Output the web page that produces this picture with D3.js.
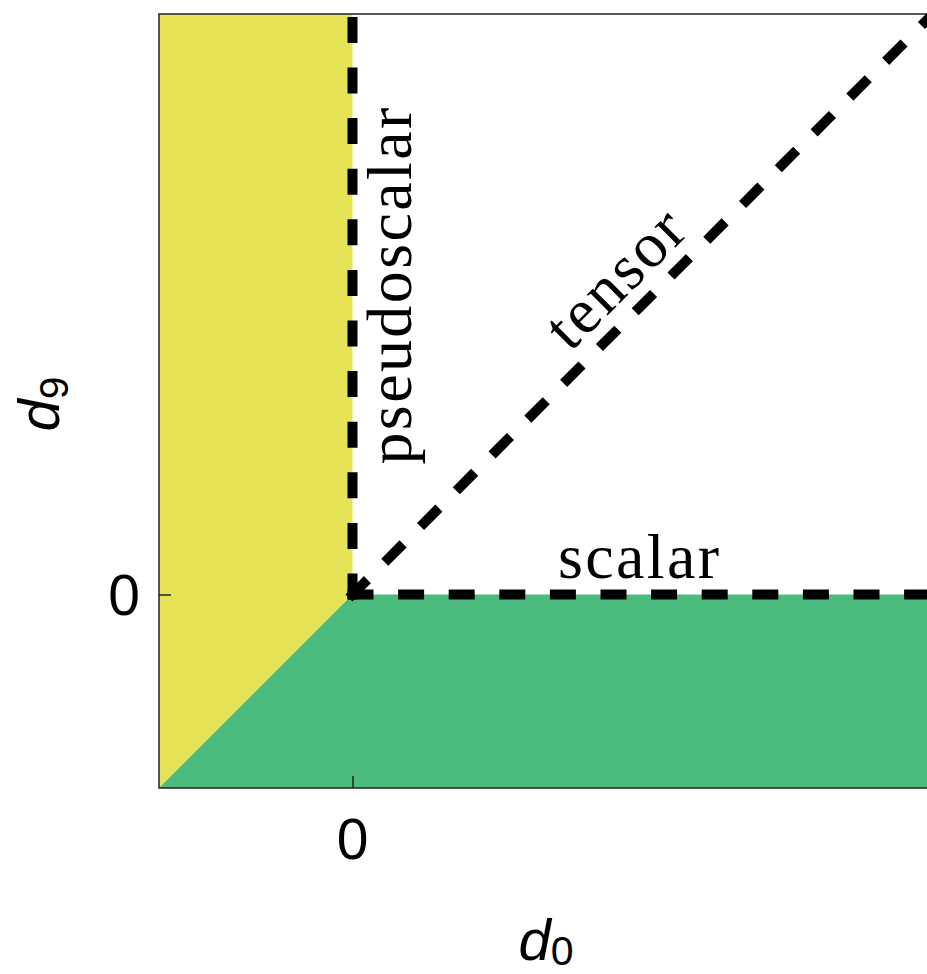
<!DOCTYPE html>
<html>
<head>
<meta charset="utf-8">
<script src="https://cdn.jsdelivr.net/npm/d3@7/dist/d3.min.js"></script>
<style>
  html, body { margin: 0; padding: 0; background: #ffffff; }
  svg { display: block; }
</style>
</head>
<body>
<svg id="chart" width="927" height="974"></svg>
<script>
// Axis extents (arbitrary units, only the origin is labelled)
const xDomain = [-1, 3];
const yDomain = [-1, 3];
const xTicks = [0];
const yTicks = [0];
const xTickLabels = ["0"];
const yTickLabels = ["0"];

// Phase regions in the (d0, d9) plane
const pseudoscalarRegion = [[-1, -1], [0, 0], [0, 3], [-1, 3]];
const scalarRegion = [[-1, -1], [3, -1], [3, 0], [0, 0]];

// Dashed phase boundaries and their names
const boundaryNames = ["pseudoscalar", "tensor", "scalar"];
const boundaryLines = [
  [[0, 0], [0, 3]],
  [[0, 0], [3, 3]],
  [[0, 0], [3, 0]]
];
// Position along each boundary where its name sits
const boundaryLabelAt = [[0, 1.6], [1.5, 1.5], [1.5, 0]];

const svg = d3.select("#chart");
const margin = { left: 159, top: 14 };
const plotW = 774, plotH = 774;

const x = d3.scaleLinear().domain(xDomain).range([margin.left, margin.left + plotW]);
const y = d3.scaleLinear().domain(yDomain).range([margin.top + plotH, margin.top]);

const line = d3.line().x(d => x(d[0])).y(d => y(d[1]));

// Filled regions
svg.append("path")
  .attr("d", line(pseudoscalarRegion) + "Z")
  .attr("fill", "#e6e357");
svg.append("path")
  .attr("d", line(scalarRegion) + "Z")
  .attr("fill", "#4cbb7e");

// Frame
svg.append("rect")
  .attr("x", x(xDomain[0]))
  .attr("y", y(yDomain[1]))
  .attr("width", x(xDomain[1]) - x(xDomain[0]))
  .attr("height", y(yDomain[0]) - y(yDomain[1]))
  .attr("fill", "none")
  .attr("stroke", "#222")
  .attr("stroke-width", 1.5);

// Axes with inward ticks
const xAxis = d3.axisTop(x).tickValues(xTicks).tickSize(12)
  .tickFormat(() => "");
const gx = svg.append("g")
  .attr("transform", `translate(0,${y(yDomain[0])})`)
  .call(xAxis);
gx.select(".domain").remove();
gx.selectAll(".tick line").attr("stroke", "#222").attr("stroke-width", 1.5);

const yAxis = d3.axisRight(y).tickValues(yTicks).tickSize(12)
  .tickFormat(() => "");
const gy = svg.append("g")
  .attr("transform", `translate(${x(xDomain[0])},0)`)
  .call(yAxis);
gy.select(".domain").remove();
gy.selectAll(".tick line").attr("stroke", "#222").attr("stroke-width", 1.5);

// Tick labels
svg.selectAll(".xtl").data(xTicks).enter().append("text")
  .attr("class", "xtl")
  .attr("x", d => x(d))
  .attr("y", y(yDomain[0]) + 71)
  .attr("text-anchor", "middle")
  .attr("font-family", "Liberation Sans, Arial, sans-serif")
  .attr("font-size", 57)
  .attr("fill", "#000")
  .text((d, i) => xTickLabels[i]);

svg.selectAll(".ytl").data(yTicks).enter().append("text")
  .attr("class", "ytl")
  .attr("x", x(xDomain[0]) - 19)
  .attr("y", d => y(d) + 20)
  .attr("text-anchor", "end")
  .attr("font-family", "Liberation Sans, Arial, sans-serif")
  .attr("font-size", 57)
  .attr("fill", "#000")
  .text((d, i) => yTickLabels[i]);

// Dashed boundaries
svg.selectAll(".boundary").data(boundaryLines).enter().append("path")
  .attr("class", "boundary")
  .attr("d", d => line(d))
  .attr("fill", "none")
  .attr("stroke", "#000")
  .attr("stroke-width", 10)
  .attr("stroke-linecap", "square")
  .attr("stroke-dasharray", "16,34.6");

// Boundary names
const serif = "Liberation Serif, Times New Roman, serif";
const labelOffsets = [
  { dx: 58, dy: 0, rot: -90 },
  { dx: -12, dy: -12, rot: -45 },
  { dx: -3, dy: -17, rot: 0 }
];
svg.selectAll(".bname").data(boundaryNames).enter().append("text")
  .attr("class", "bname")
  .attr("transform", (d, i) => {
    const p = boundaryLabelAt[i], o = labelOffsets[i];
    return `translate(${x(p[0]) + o.dx},${y(p[1]) + o.dy}) rotate(${o.rot})`;
  })
  .attr("text-anchor", "middle")
  .attr("font-family", serif)
  .attr("font-size", 64)
  .attr("letter-spacing", 2.4)
  .attr("fill", "#000")
  .text(d => d);

// Axis titles: d with subscript
const sans = "Liberation Sans, Arial, sans-serif";
const xt = svg.append("text")
  .attr("x", 546)
  .attr("y", 960)
  .attr("text-anchor", "middle")
  .attr("font-family", sans)
  .attr("fill", "#000");
xt.append("tspan").attr("font-style", "italic").attr("font-size", 58).text("d");
xt.append("tspan").attr("font-size", 41).attr("dy", 5).text("0");

const yt = svg.append("text")
  .attr("transform", "translate(59,404) rotate(-90)")
  .attr("text-anchor", "middle")
  .attr("font-family", sans)
  .attr("fill", "#000");
yt.append("tspan").attr("font-style", "italic").attr("font-size", 58).text("d");
yt.append("tspan").attr("font-size", 41).attr("dy", 9).text("9");
</script>
</body>
</html>
